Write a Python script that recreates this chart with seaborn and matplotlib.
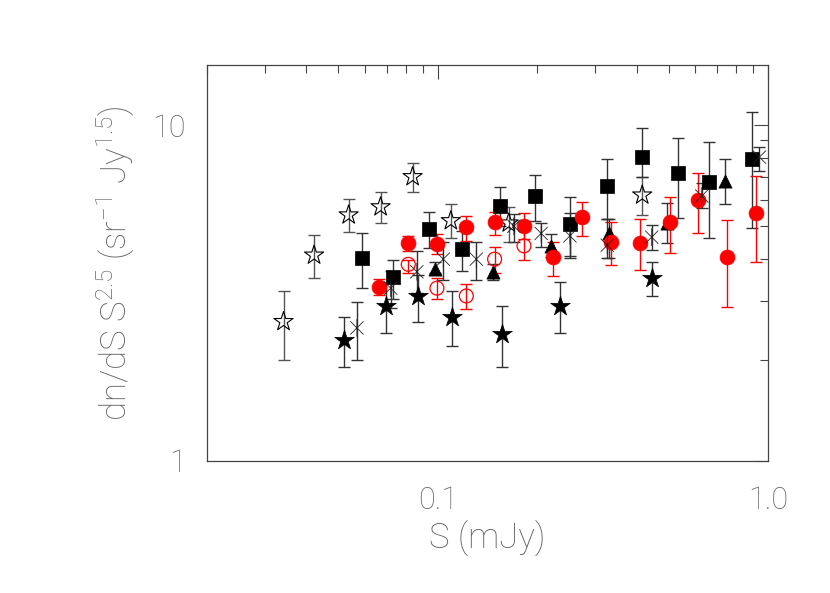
import matplotlib
matplotlib.use("Agg")
import matplotlib.pyplot as plt
import seaborn as sns
import pandas as pd
from matplotlib.path import Path
from matplotlib.ticker import FixedLocator, FixedFormatter, LogLocator, NullFormatter

# ---- data ----
open_star_x = [0.0341, 0.0422, 0.0537, 0.0671, 0.0839, 0.1095, 0.164, 0.416]
open_star_y = [2.60, 4.10, 5.40, 5.71, 7.02, 5.19, 5.11, 6.19]
open_star_lo = [2.00, 3.50, 4.80, 5.11, 6.32, 4.61, 4.49, 5.40]
open_star_hi = [3.21, 4.71, 6.02, 6.32, 7.71, 5.82, 5.70, 7.00]

star_x = [0.0520, 0.0698, 0.0870, 0.1106, 0.156, 0.235, 0.446]
star_y = [2.29, 2.89, 3.10, 2.69, 2.39, 2.89, 3.50]
star_lo = [1.90, 2.40, 2.60, 2.20, 1.90, 2.40, 3.10]
star_hi = [2.69, 3.39, 3.58, 3.21, 2.90, 3.41, 3.91]

square_x = [0.0591, 0.0730, 0.0938, 0.1185, 0.1538, 0.1963, 0.251, 0.326, 0.414, 0.535, 0.661, 0.897]
square_y = [4.03, 3.52, 4.90, 4.27, 5.74, 6.16, 5.08, 6.58, 8.05, 7.21, 6.77, 7.92]
square_lo = [3.27, 3.03, 4.31, 3.68, 5.00, 5.19, 4.07, 5.24, 6.99, 5.30, 4.62, 4.93]
square_hi = [4.78, 3.98, 5.50, 4.84, 6.53, 7.10, 6.11, 7.92, 9.78, 9.17, 8.92, 10.96]

tri_x = [0.0979, 0.1467, 0.2198, 0.329, 0.493, 0.741]
tri_y = [3.73, 3.66, 4.36, 4.76, 5.12, 6.83]
tri_lo = [3.62, 3.47, 4.04, 4.01, 4.46, 5.81]
tri_hi = [3.91, 3.86, 4.74, 5.25, 5.85, 7.91]

ast_x = [0.0569, 0.0720, 0.0864, 0.1039, 0.1308, 0.170, 0.2056, 0.2513, 0.326, 0.4444, 0.630, 0.942]
ast_y = [2.49, 3.27, 3.66, 3.99, 3.99, 5.00, 4.76, 4.68, 4.39, 4.64, 6.15, 8.03]
ast_lo = [2.00, 2.85, 3.16, 3.47, 3.47, 4.49, 4.34, 4.02, 4.01, 4.25, 5.65, 7.31]
ast_hi = [2.98, 3.68, 4.22, 4.49, 4.49, 5.43, 5.12, 5.47, 5.25, 5.03, 6.72, 8.62]

red_x = [0.0662, 0.0811, 0.0994, 0.122, 0.1486, 0.1824, 0.2233, 0.274, 0.334, 0.409, 0.504, 0.614, 0.753, 0.922]
red_y = [3.30, 4.46, 4.44, 4.96, 5.13, 5.01, 4.04, 5.31, 4.49, 4.46, 5.13, 5.98, 4.04, 5.48]
red_lo = [3.12, 4.23, 4.12, 4.53, 4.71, 4.57, 3.55, 4.68, 3.83, 3.70, 4.16, 4.76, 2.88, 3.90]
red_hi = [3.48, 4.68, 4.74, 5.37, 5.52, 5.48, 4.49, 5.91, 5.15, 5.24, 6.12, 7.18, 5.22, 7.06]

redo_x = [0.0814, 0.0994, 0.122, 0.1486, 0.1824]
redo_y = [3.85, 3.27, 3.10, 3.99, 4.37]
redo_lo = [3.62, 3.03, 2.83, 3.64, 3.96]
redo_hi = [3.96, 3.50, 3.36, 4.33, 4.87]

x_ticks = [0.1, 1.0]
x_ticklabels = ["0.1", "1.0"]
y_ticks = [1, 10]
y_ticklabels = ["1", "10"]

sns.set_theme(style="white")
plt.rcParams['font.family'] = ['Roboto', 'DejaVu Sans']
plt.rcParams['mathtext.default'] = 'regular'

fig = plt.figure(figsize=(8.3, 5.93), dpi=100)
ax = fig.add_axes([0.2494, 0.2226, 0.6759, 0.6678])
ax.set_xscale('log')
ax.set_yscale('log')

series = [
    dict(x=open_star_x, y=open_star_y, lo=open_star_lo, hi=open_star_hi, marker='*', s=210,
         fc='none', ec='black', ecol='#555555', lw=0.8),
    dict(x=star_x, y=star_y, lo=star_lo, hi=star_hi, marker='*', s=220,
         fc='black', ec='black', ecol='#333333', lw=0.5),
    dict(x=square_x, y=square_y, lo=square_lo, hi=square_hi, marker='s', s=115,
         fc='black', ec='black', ecol='#333333', lw=0.5),
    dict(x=tri_x, y=tri_y, lo=tri_lo, hi=tri_hi, marker='^', s=90,
         fc='black', ec='black', ecol='#333333', lw=0.5),
    dict(x=red_x, y=red_y, lo=red_lo, hi=red_hi, marker='o', s=115,
         fc='red', ec='red', ecol='red', lw=0.5),
    dict(x=redo_x, y=redo_y, lo=redo_lo, hi=redo_hi, marker='o', s=100,
         fc='none', ec='red', ecol='red', lw=0.9),
]

for d in series:
    ylo = [v - l for v, l in zip(d['y'], d['lo'])]
    yhi = [h - v for v, h in zip(d['y'], d['hi'])]
    ax.errorbar(d['x'], d['y'], yerr=[ylo, yhi], fmt='none', ecolor=d['ecol'],
                elinewidth=1.0, capsize=4, capthick=1.0, zorder=2)
    df = pd.DataFrame({'x': d['x'], 'y': d['y']})
    sns.scatterplot(data=df, x='x', y='y', marker=d['marker'], s=d['s'], ax=ax,
                    facecolors=d['fc'], edgecolors=d['ec'], linewidths=d['lw'], zorder=3)

# asterisks: vertical stroke plus an X
ast_marker = Path([(0, -1), (0, 1), (-0.75, -0.75), (0.75, 0.75), (-0.75, 0.75), (0.75, -0.75)],
                  [Path.MOVETO, Path.LINETO, Path.MOVETO, Path.LINETO, Path.MOVETO, Path.LINETO])
ylo = [v - l for v, l in zip(ast_y, ast_lo)]
yhi = [h - v for v, h in zip(ast_y, ast_hi)]
ax.errorbar(ast_x, ast_y, yerr=[ylo, yhi], fmt='none', ecolor='#333333',
            elinewidth=1.0, capsize=4, capthick=1.0, zorder=2)
df = pd.DataFrame({'x': ast_x, 'y': ast_y})
sns.scatterplot(data=df, x='x', y='y', marker=ast_marker, s=160, ax=ax,
                facecolors='none', edgecolors='#222222', linewidths=0.6, zorder=3)

ax.set_xlim(0.02, 1.0)
ax.set_ylim(1, 15.1)

tcol = '#666666'
ax.xaxis.set_major_locator(FixedLocator(x_ticks))
ax.xaxis.set_major_formatter(FixedFormatter(x_ticklabels))
ax.xaxis.set_minor_locator(LogLocator(base=10, subs=range(2, 10)))
ax.xaxis.set_minor_formatter(NullFormatter())
ax.yaxis.set_major_locator(FixedLocator(y_ticks))
ax.yaxis.set_major_formatter(FixedFormatter(y_ticklabels))
ax.yaxis.set_minor_locator(LogLocator(base=10, subs=range(2, 10)))
ax.yaxis.set_minor_formatter(NullFormatter())

ax.tick_params(which='both', direction='in', top=True, right=True, color='#444444', width=0.8,
               labelsize=22, labelcolor=tcol)
ax.tick_params(which='major', length=10)
ax.tick_params(which='minor', length=6)
ax.tick_params(axis='x', which='major', pad=18)
ax.tick_params(axis='y', which='major', pad=15)
for sp in ax.spines.values():
    sp.set_color('#444444')
    sp.set_linewidth(0.9)
for lab in ax.get_xticklabels() + ax.get_yticklabels():
    lab.set_fontweight('light')

ax.set_xlabel('S (mJy)', fontsize=25, color=tcol, fontweight='light', labelpad=4)
ax.set_ylabel(r'dn/dS S$^{2.5}$ (sr$^{-1}$ Jy$^{1.5}$)', fontsize=25, color=tcol,
              fontweight='light', labelpad=12)

fig.savefig('out.png', dpi=100)
